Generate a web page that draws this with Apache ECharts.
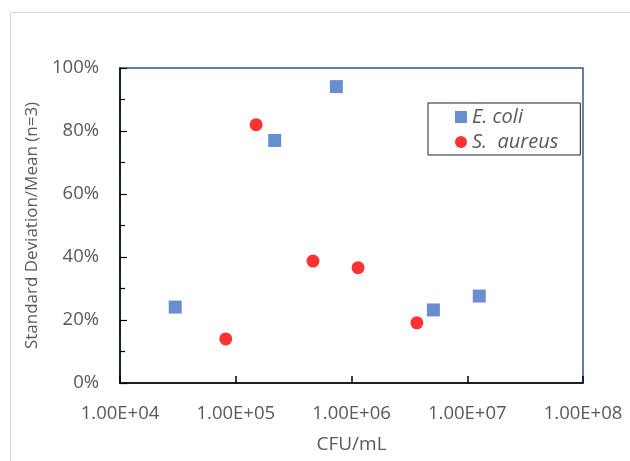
<!DOCTYPE html>
<html>
<head>
<meta charset="utf-8">
<script src="https://cdn.jsdelivr.net/npm/echarts@6/dist/echarts.min.js"></script>
<style>
  html, body { margin: 0; padding: 0; background: #fff; }
  #chart { width: 630px; height: 461px; }
</style>
</head>
<body>
<div id="chart"></div>
<script>
  // values
  const ecoliX = [3.0e4, 2.17e5, 7.4e5, 5.1e6, 1.27e7]
  const ecoliY = [0.241, 0.770, 0.941, 0.232, 0.276]
  const aureusX = [8.2e4, 1.5e5, 4.65e5, 1.14e6, 3.67e6]
  const aureusY = [0.140, 0.820, 0.387, 0.366, 0.191]
  const seriesNames = ['E. coli', 'S.  aureus']
  const xTitle = 'CFU/mL'
  const yTitle = 'Standard Deviation/Mean (n=3)'

  const font = '"Open Sans", sans-serif'
  const grey = '#595959'

  const pairs = (xs, ys) => xs.map((x, i) => [x, ys[i]])

  // 1.00E+04 style labels
  const sciLabel = (v) => {
    const e = Math.round(Math.log10(v))
    return '1.00E+' + String(e).padStart(2, '0')
  }

  const chart = echarts.init(document.getElementById('chart'))
  chart.setOption({
    animation: false,
    textStyle: { fontFamily: font },
    graphic: [
      {
        type: 'rect',
        shape: { x: 10.5, y: 12.5, width: 700, height: 500 },
        style: { fill: 'none', stroke: '#d9d9d9', lineWidth: 1 },
        silent: true,
      },
    ],
    grid: {
      left: 120,
      right: 47,
      top: 68,
      bottom: 78,
      show: true,
      borderColor: '#2F5597',
      borderWidth: 1.5,
      containLabel: false,
    },
    legend: {
      orient: 'vertical',
      left: 428,
      top: 103,
      padding: [4, 22, 3, 27],
      itemWidth: 12,
      itemHeight: 12,
      itemGap: 5,
      borderColor: '#222',
      borderWidth: 1,
      backgroundColor: '#fff',
      textStyle: {
        fontFamily: font,
        fontSize: 20,
        fontStyle: 'italic',
        color: grey,
        lineHeight: 20,
      },
      data: [
        { name: seriesNames[0], icon: 'rect' },
        { name: seriesNames[1], icon: 'circle' },
      ],
    },
    xAxis: {
      type: 'log',
      logBase: 10,
      min: 1e4,
      max: 1e8,
      name: xTitle,
      nameLocation: 'middle',
      nameGap: 52,
      nameTextStyle: { fontSize: 19, color: grey },
      axisLine: { lineStyle: { color: '#000', width: 1.5 } },
      axisTick: { inside: true, length: 7, lineStyle: { color: '#000', width: 1.5 } },
      minorTick: { show: false },
      splitLine: { show: false },
      axisLabel: {
        margin: 21,
        fontSize: 18.5,
        color: grey,
        formatter: sciLabel,
      },
    },
    yAxis: {
      type: 'value',
      min: 0,
      max: 1,
      interval: 0.2,
      name: yTitle,
      nameLocation: 'middle',
      nameGap: 66,
      nameTextStyle: { fontSize: 17, color: grey },
      axisLine: { show: true, lineStyle: { color: '#000', width: 1.5 } },
      axisTick: { show: true, inside: true, length: 7, lineStyle: { color: '#000', width: 1.2 } },
      minorTick: { show: true, splitNumber: 2, length: 5, lineStyle: { color: '#000', width: 1.2 } },
      splitLine: { show: false },
      axisLabel: {
        margin: 21,
        fontSize: 18.5,
        color: grey,
        formatter: (v) => Math.round(v * 100) + '%',
      },
    },
    series: [
      {
        name: seriesNames[0],
        type: 'scatter',
        symbol: 'rect',
        symbolSize: 13,
        itemStyle: { color: '#4472C4' },
        data: pairs(ecoliX, ecoliY),
      },
      {
        name: seriesNames[1],
        type: 'scatter',
        symbol: 'circle',
        symbolSize: 13,
        itemStyle: { color: '#FF0000' },
        data: pairs(aureusX, aureusY),
      },
    ],
  })
</script>
</body>
</html>
